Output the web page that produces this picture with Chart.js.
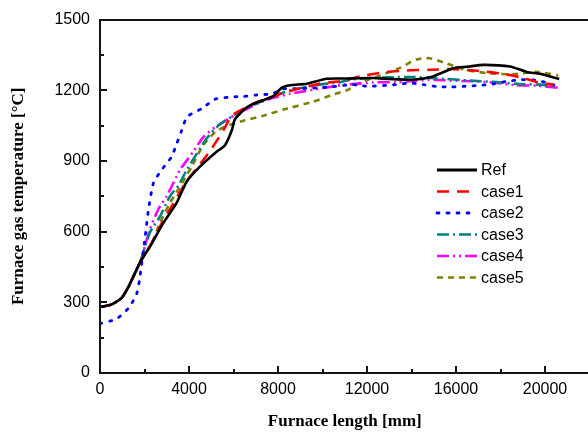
<!DOCTYPE html>
<html lang="en">
<head>
  <meta charset="UTF-8">
  <title>Furnace gas temperature</title>
  <script src="https://cdn.jsdelivr.net/npm/chart.js"></script>
  <style>
    html, body { margin: 0; padding: 0; overflow: hidden; background: #fff; }
    canvas { display: block; }
  </style>
</head>
<body>
  <canvas id="furnaceChart" width="600" height="434"></canvas>

  <script>
    // furnace length [mm] / gas temperature [C]
    const commonX = [0, 500, 975, 1300, 1800];
    const commonY = [280, 290, 319, 370, 470];

    const refX = [...commonX, 2300, 2800, 3450, 3900, 4490, 5240, 5620, 5920, 6070, 6590, 7040, 7790, 8160, 8540, 9290, 10190, 11000, 12280, 13000, 14070, 14970, 15880, 16500, 17230, 18430, 19180, 19780, 20640];
    const refY = [...commonY, 545, 630, 723, 813, 876, 939, 967, 1029, 1078, 1127, 1148, 1175, 1210, 1221, 1228, 1249, 1250, 1252, 1248, 1245, 1259, 1294, 1300, 1308, 1301, 1278, 1270, 1248];

    const case1X = [...commonX, 2300, 2800, 3300, 3900, 4870, 5540, 5920, 6600, 7190, 8540, 10040, 10790, 11840, 12730, 13780, 14830, 15880, 16930, 18130, 19030, 19780, 20400];
    const case1Y = [...commonY, 548, 640, 720, 815, 932, 1029, 1092, 1130, 1155, 1197, 1231, 1238, 1262, 1276, 1284, 1287, 1290, 1283, 1270, 1252, 1231, 1224];

    const case2X = [0, 750, 1320, 1650, 1770, 2020, 2170, 2400, 2770, 3220, 3450, 3670, 3920, 4570, 5170, 5800, 6440, 7040, 7720, 8240, 9000, 10190, 11390, 12060, 13260, 13930, 14530, 15130, 15800, 16400, 17080, 17680, 18280, 18950, 19550, 20150, 20640];
    const case2Y = [210, 230, 280, 337, 392, 570, 688, 806, 862, 918, 974, 1029, 1088, 1122, 1162, 1171, 1174, 1180, 1185, 1206, 1207, 1213, 1224, 1217, 1224, 1231, 1224, 1216, 1214, 1217, 1221, 1227, 1238, 1245, 1243, 1231, 1213];

    const case3X = [...commonX, 2250, 2700, 3150, 3520, 3900, 4790, 5320, 5990, 6590, 7790, 8540, 9890, 10790, 11240, 12130, 12960, 14080, 14830, 15580, 16630, 17830, 18730, 19780, 20510];
    const case3Y = [...commonY, 598, 665, 751, 795, 862, 995, 1050, 1092, 1124, 1175, 1199, 1224, 1234, 1245, 1252, 1255, 1256, 1252, 1248, 1241, 1235, 1227, 1224, 1217];

    const case4X = [...commonX, 2250, 2620, 3000, 3600, 4190, 4640, 5170, 6140, 7190, 7790, 8540, 10040, 10790, 11090, 12430, 13330, 14230, 14970, 15730, 16930, 17830, 18730, 19630, 20640];
    const case4Y = [...commonY, 611, 695, 751, 862, 939, 1001, 1043, 1099, 1148, 1168, 1185, 1210, 1221, 1224, 1234, 1234, 1241, 1245, 1241, 1238, 1231, 1221, 1220, 1210];

    const case5X = [...commonX, 2300, 2700, 3150, 3520, 4120, 4640, 5170, 5620, 6440, 7340, 8240, 9590, 10410, 11090, 11840, 12580, 13480, 14230, 14830, 15430, 16330, 17380, 18580, 19630, 20600];
    const case5Y = [...commonY, 545, 639, 723, 779, 876, 967, 1022, 1046, 1071, 1092, 1118, 1152, 1180, 1200, 1238, 1262, 1295, 1331, 1336, 1319, 1289, 1273, 1268, 1278, 1263];

    const seriesNames = ['Ref', 'case1', 'case2', 'case3', 'case4', 'case5'];
    const xTicks = [0, 4000, 8000, 12000, 16000, 20000];
    const yTicks = [0, 300, 600, 900, 1200, 1500];

    const toPoints = (xs, ys) => xs.map((x, i) => ({ x: x, y: ys[i] }));

    const styles = [
      { color: '#000000', dash: [], width: 2.6 },
      { color: '#ff0000', dash: [12, 8], width: 2.6 },
      { color: '#0000ff', dash: [2, 8], width: 2.8 },
      { color: '#008080', dash: [12, 4, 2, 4], width: 2.6 },
      { color: '#ff00ff', dash: [12, 4, 2, 4, 2, 4], width: 2.6 },
      { color: '#808000', dash: [6, 5], width: 2.6 }
    ];
    const allX = [refX, case1X, case2X, case3X, case4X, case5X];
    const allY = [refY, case1Y, case2Y, case3Y, case4Y, case5Y];

    const datasets = seriesNames.map((name, i) => ({
      label: name,
      data: toPoints(allX[i], allY[i]),
      borderColor: styles[i].color,
      borderDash: styles[i].dash,
      borderWidth: styles[i].width,
      borderCapStyle: i === 2 ? 'round' : 'butt',
      pointRadius: 0,
      tension: 0.2,
      fill: false
    }));

    // box round the plot plus inward ticks
    const framePlugin = {
      id: 'boxFrame',
      afterDraw(chart) {
        const ctx = chart.ctx;
        const a = chart.chartArea;
        const xs = chart.scales.x, ys = chart.scales.y;
        const L = Math.round(a.left), T = Math.round(a.top);
        const B = Math.round(a.bottom), R = Math.round(a.right);
        ctx.save();
        ctx.setLineDash([]);
        ctx.fillStyle = '#141414';
        ctx.fillRect(L - 1, T - 1, R - L + 2, 2);
        ctx.fillRect(L - 1, B - 1, R - L + 2, 2);
        ctx.fillRect(L - 1, T - 1, 2, B - T + 2);
        ctx.fillRect(R - 1, T - 1, 2, B - T + 2);
        for (let v = 2000; v <= 22000; v += 2000) {
          const px = Math.round(xs.getPixelForValue(v));
          const len = v % 4000 === 0 ? 7 : 4;
          ctx.fillRect(px - 1, B - len, 2, len);
        }
        for (let v = 150; v <= 1500; v += 150) {
          const py = Math.round(ys.getPixelForValue(v));
          const len = v % 300 === 0 ? 7 : 4;
          ctx.fillRect(L, py - 1, len, 2);
        }
        ctx.restore();
      }
    };

    const legendPlugin = {
      id: 'boxLegend',
      afterDraw(chart) {
        const ctx = chart.ctx;
        ctx.save();
        ctx.font = '16px "Liberation Sans", Arial, sans-serif';
        ctx.textBaseline = 'middle';
        ctx.fillStyle = '#000';
        chart.data.datasets.forEach((ds, i) => {
          const y = 170 + i * 21.5;
          ctx.strokeStyle = ds.borderColor;
          ctx.lineWidth = i === 0 ? 3 : ds.borderWidth;
          ctx.setLineDash(ds.borderDash);
          ctx.lineCap = ds.borderCapStyle;
          ctx.beginPath();
          ctx.moveTo(437, y);
          ctx.lineTo(477, y);
          ctx.stroke();
          ctx.setLineDash([]);
          ctx.fillText(ds.label, 481, y + 1);
        });
        ctx.restore();
      }
    };

    const tickFont = { family: '"Liberation Sans", Arial, sans-serif', size: 16 };
    const titleFont = { family: '"Liberation Serif", "Times New Roman", serif', size: 17, weight: 'bold' };

    new Chart(document.getElementById('furnaceChart'), {
      type: 'line',
      data: { datasets: datasets },
      options: {
        responsive: false,
        animation: false,
        layout: { padding: { top: 14, right: 10.5, left: 0, bottom: 0 } },
        plugins: {
          legend: { display: false },
          tooltip: { enabled: false }
        },
        scales: {
          x: {
            type: 'linear',
            min: 0,
            max: 22000,
            afterFit(scale) { scale.height = 61; },
            afterBuildTicks(scale) { scale.ticks = xTicks.map(v => ({ value: v })); },
            grid: { display: false, drawTicks: false },
            border: { display: false },
            ticks: { font: tickFont, color: '#000', padding: 7, maxRotation: 0, callback: v => String(v) },
            title: {
              display: true,
              text: 'Furnace length [mm]',
              font: titleFont,
              color: '#000',
              padding: { top: 0, bottom: 2 }
            }
          },
          y: {
            min: 0,
            max: 1500,
            afterFit(scale) { scale.width = 100; },
            afterBuildTicks(scale) { scale.ticks = yTicks.map(v => ({ value: v })); },
            grid: { display: false, drawTicks: false },
            border: { display: false },
            ticks: { font: tickFont, color: '#000', padding: 10, callback: v => String(v) },
            title: {
              display: true,
              text: 'Furnace gas temperature [°C]',
              font: titleFont,
              color: '#000',
              padding: { top: 8, bottom: 0 }
            }
          }
        }
      },
      plugins: [framePlugin, legendPlugin]
    });
  </script>
</body>
</html>
